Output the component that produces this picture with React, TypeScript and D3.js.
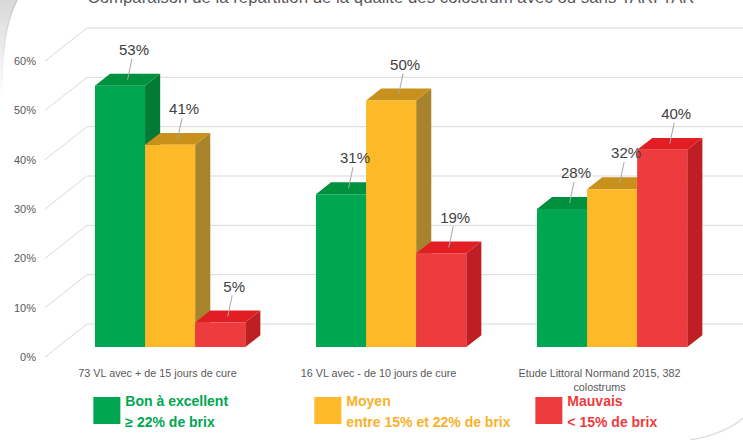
import React from 'react';
import * as d3 from 'd3';

// Chart data
const title = 'Comparaison de la répartition de la qualité des colostrum avec ou sans TARI TAR';
const categories = [
  '73 VL avec + de 15 jours de cure',
  '16 VL avec - de 10 jours de cure',
  'Etude Littoral Normand 2015, 382 colostrums',
];
const seriesNames = ['Bon à excellent', 'Moyen', 'Mauvais'];
const seriesNotes = ['≥ 22% de brix', 'entre 15% et 22% de brix', '< 15% de brix'];
const bonValues = [53, 31, 28];
const moyenValues = [41, 50, 32];
const mauvaisValues = [5, 19, 40];
const yTicks = [0, 10, 20, 30, 40, 50, 60];

const series = [bonValues, moyenValues, mauvaisValues];

// front / top / side shades for each series
const palette = [
  { front: '#00A651', top: '#00913F', side: '#007A35', text: '#00A651' },
  { front: '#FDB927', top: '#C8911B', side: '#A7832B', text: '#F9B12A' },
  { front: '#EE3B3E', top: '#E21E25', side: '#BE1E24', text: '#EE3B3E' },
];

const width = 743;
const height = 440;

// oblique projection of the depth axis
const DX = 42;
const DY = -33;
const F0 = 0.3; // bar front depth
const F1 = 0.66; // bar back depth

function wrap(label: string, maxChars: number) {
  const lines: string[] = [];
  let cur = '';
  label.split(' ').forEach((w) => {
    const next = cur ? cur + ' ' + w : w;
    if (next.length > maxChars && cur) {
      lines.push(cur);
      cur = w;
    } else cur = next;
  });
  if (cur) lines.push(cur);
  return lines;
}

export default function App() {
  const y = d3.scaleLinear().domain([0, 60]).range([357, 61]);
  const x0 = d3.scaleBand<string>()
    .domain(categories)
    .range([47, 710])
    .paddingInner(0.32)
    .paddingOuter(0.16);
  const x1 = d3.scaleBand<string>()
    .domain(seriesNames)
    .range([0, x0.bandwidth()]);

  const P = (px: number, v: number, f: number): [number, number] => [px + DX * f, y(v) + DY * f];
  const poly = (pts: [number, number][]) => pts.map((p) => p.join(',')).join(' ');

  const wallX = 45;
  const font = "'Liberation Sans', sans-serif";

  const bars = categories.flatMap((c, ci) =>
    seriesNames.map((s, si) => {
      const v = series[si][ci];
      const xl = (x0(c) ?? 0) + (x1(s) ?? 0);
      const xr = xl + x1.bandwidth();
      return { key: `${ci}-${si}`, v, xl, xr, si };
    })
  );

  return (
    <svg
      width={width}
      height={height}
      style={{ position: 'absolute', left: 0, top: 0, background: '#fff' }}
      fontFamily={font}
    >
      <defs>
        <linearGradient id="corner" x1="0" y1="0" x2="0" y2="1">
          <stop offset="0%" stopColor="#cfcfcf" />
          <stop offset="100%" stopColor="#ffffff" />
        </linearGradient>
        <linearGradient id="arcFade" x1="0" y1="0" x2="0" y2="1">
          <stop offset="0%" stopColor="#c8c8c8" />
          <stop offset="100%" stopColor="#ffffff" />
        </linearGradient>
      </defs>

      {/* slide decoration */}
      <path d="M0 0 L17 0 Q 1 30 2 95 L0 95 Z" fill="url(#corner)" opacity={0.8} />
      <path d="M17 0 Q 1 30 2 95" fill="none" stroke="url(#arcFade)" strokeWidth={1.5} />
      <path d="M690 440 Q 725 434 743 418" fill="none" stroke="#dedede" strokeWidth={1.5} />

      <text
        x={391}
        y={3}
        textAnchor="middle"
        fontSize={16}
        fill="#595959"
        textLength={607}
        lengthAdjust="spacingAndGlyphs"
      >
        {title}
      </text>

      {/* gridlines on the side and back walls */}
      {yTicks.map((t) => {
        const a = P(wallX, t, 0);
        const b = P(wallX, t, 1);
        return (
          <g key={t}>
            <polyline
              points={poly([a, b, [width + 5, b[1]]])}
              fill="none"
              stroke="#d9d9d9"
              strokeWidth={1}
            />
            <text
              x={36}
              y={y(t)}
              dy="0.35em"
              textAnchor="end"
              fontSize={11}
              fill="#595959"
            >
              {t}%
            </text>
          </g>
        );
      })}

      {/* 3D columns, painted left to right */}
      {bars.map((b) => {
        const c = palette[b.si];
        const front = poly([P(b.xl, 0, F0), P(b.xr, 0, F0), P(b.xr, b.v, F0), P(b.xl, b.v, F0)]);
        const top = poly([P(b.xl, b.v, F0), P(b.xr, b.v, F0), P(b.xr, b.v, F1), P(b.xl, b.v, F1)]);
        const side = poly([P(b.xr, 0, F0), P(b.xr, 0, F1), P(b.xr, b.v, F1), P(b.xr, b.v, F0)]);
        return (
          <g key={b.key}>
            <polygon points={side} fill={c.side} />
            <polygon points={top} fill={c.top} />
            <polygon points={front} fill={c.front} />
          </g>
        );
      })}

      {/* value labels with leader lines */}
      {bars.map((b) => {
        const mid = (b.xl + b.xr) / 2;
        const anchor = P(mid, b.v, (F0 + F1) / 2);
        const fx = P(mid, b.v, F0);
        const lx = fx[0] + 14;
        const ly = fx[1] - 36;
        return (
          <g key={'l' + b.key}>
            <line x1={anchor[0]} y1={anchor[1]} x2={lx - 2} y2={ly + 9} stroke="#a6a6a6" strokeWidth={1} />
            <text x={lx} y={ly} dy="0.35em" textAnchor="middle" fontSize={15} fill="#404040">
              {b.v}%
            </text>
          </g>
        );
      })}

      {/* category labels */}
      {categories.map((c) => {
        const cx = (x0(c) ?? 0) + x0.bandwidth() / 2;
        return (
          <text key={c} x={cx} y={377} textAnchor="middle" fontSize={10.8} fill="#595959">
            {wrap(c, 33).map((line, i) => (
              <tspan key={i} x={cx} dy={i === 0 ? 0 : 14}>
                {line}
              </tspan>
            ))}
          </text>
        );
      })}

      {/* legend */}
      {seriesNames.map((s, si) => {
        const lx = (x0(categories[si]) ?? 0) + 11;
        const c = palette[si];
        return (
          <g key={s}>
            <rect x={lx} y={397} width={27} height={27} fill={c.front} />
            <text x={lx + 32} y={406} fontSize={14} fontWeight="bold" fill={c.text}>
              {s}
            </text>
            <text x={lx + 32} y={427} fontSize={14} fontWeight="bold" fill={c.text}>
              {seriesNotes[si]}
            </text>
          </g>
        );
      })}
    </svg>
  );
}
